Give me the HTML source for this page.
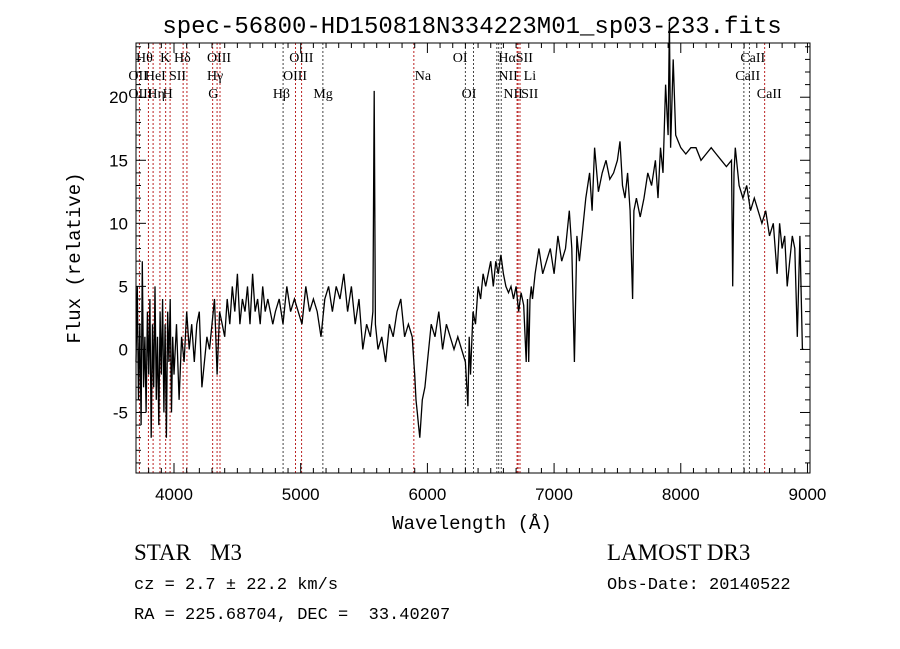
<!DOCTYPE html>
<html><head><meta charset="utf-8"><style>
body{margin:0;background:#fff;}
svg{display:block;font-family:"Liberation Serif",serif;}
</style></head><body>
<svg id="chart" width="900" height="649" viewBox="0 0 900 649" xmlns="http://www.w3.org/2000/svg">
<rect width="900" height="649" fill="#fff"/>
<text x="472" y="33" text-anchor="middle" font-size="24" font-family="Liberation Mono, monospace" fill="#000">spec-56800-HD150818N334223M01_sp03-233.fits</text>
<g id="lines"></g><g id="ticks"></g><g id="labels"></g>
<path id="spec" fill="none" stroke="#000" stroke-width="1.3"/>
<rect x="136" y="43" width="674" height="430" fill="none" stroke="#000" stroke-width="1"/>
<text x="472" y="529" text-anchor="middle" font-size="19" font-family="Liberation Mono, monospace">Wavelength (Å)</text>
<text transform="translate(80,258) rotate(-90)" text-anchor="middle" font-size="19" font-family="Liberation Mono, monospace">Flux (relative)</text>
<text x="134" y="560" font-size="23">STAR</text>
<text x="210" y="560" font-size="23">M3</text>
<text x="607" y="560" font-size="23">LAMOST DR3</text>
<text x="134" y="589" font-size="17" font-family="Liberation Mono, monospace">cz = 2.7 ± 22.2 km/s</text>
<text x="607" y="589" font-size="17" font-family="Liberation Mono, monospace">Obs-Date: 20140522</text>
<text x="134" y="619" font-size="17" font-family="Liberation Mono, monospace" xml:space="preserve" style="white-space:pre">RA = 225.68704, DEC =  33.40207</text>
</svg>
<script>
const xTicks=[4000,5000,6000,7000,8000,9000];
const yTicks=[-5,0,5,10,15,20];
const lineWaves=[3727,3798,3835,3889,3934,3969,4072,4102,4305,4340,4363,4861,4959,5007,5175,5893,6300,6364,6548,6563,6583,6708,6716,6731,8498,8542,8662];
const lineColors=["#b22","#b22","#b22","#b22","#b22","#b22","#b22","#b22","#b22","#b22","#b22","#444","#b22","#b22","#444","#b22","#444","#444","#444","#444","#444","#b22","#b22","#b22","#444","#444","#b22"];
const labelText=["Hθ","K","Hδ","OIII","OIII","OI","HαSII","CaII","OII","HeI","SII","Hγ","OIII","Na","NII","Li","CaII","OIII","Hη","H","G","Hβ","Mg","OI","NII","SII","CaII"];
const labelWave=[3700,3890,4000,4260,4910,6200,6560,8470,3640,3770,3960,4260,4860,5900,6560,6760,8430,3640,3790,3910,4270,4780,5100,6270,6600,6740,8600];
const labelRow=[0,0,0,0,0,0,0,0,1,1,1,1,1,1,1,1,1,2,2,2,2,2,2,2,2,2,2];
const waves=[3700,3710,3720,3730,3740,3750,3760,3770,3780,3790,3800,3810,3820,3830,3840,3850,3860,3870,3880,3890,3900,3910,3920,3930,3940,3950,3960,3970,3980,3990,4000,4020,4040,4060,4080,4100,4120,4140,4160,4180,4200,4220,4240,4260,4280,4300,4320,4340,4360,4380,4400,4420,4440,4460,4480,4500,4520,4540,4560,4580,4600,4620,4640,4660,4680,4700,4720,4740,4760,4780,4800,4830,4860,4890,4920,4950,4980,5010,5040,5070,5100,5130,5160,5190,5220,5250,5280,5310,5340,5370,5400,5430,5460,5490,5520,5550,5570,5580,5590,5610,5640,5670,5700,5730,5760,5790,5820,5850,5880,5900,5910,5920,5930,5940,5960,5980,6000,6030,6060,6090,6120,6150,6180,6210,6240,6270,6300,6320,6330,6340,6360,6380,6400,6420,6440,6460,6480,6500,6520,6540,6560,6580,6600,6620,6640,6660,6680,6700,6720,6740,6760,6780,6790,6800,6810,6820,6830,6850,6880,6910,6940,6970,7000,7030,7060,7090,7120,7140,7160,7180,7200,7220,7250,7280,7300,7320,7350,7380,7410,7440,7470,7500,7520,7540,7560,7580,7600,7620,7630,7650,7680,7710,7740,7770,7800,7820,7840,7860,7880,7900,7910,7920,7940,7960,7980,8000,8040,8080,8120,8160,8200,8240,8280,8320,8360,8400,8410,8420,8430,8460,8490,8520,8550,8580,8610,8640,8670,8700,8730,8760,8780,8800,8820,8840,8860,8880,8900,8920,8940,8960,8970,8980,9000];
const flux=[-1,5,-4,2,-6,7,-3,1,-5,3,-2,4,-7,2,-3,5,-4,1,-6,3,-2,4,-5,2,-7,3,-1,4,-5,1,-2,2,-4,1,-1,3,0,2,-1,2,3,-3,-1,1,0,2,4,-2,3,2,1,4,2,5,3,6,2,4,3,5,2,6,3,4,2,5,3,4,3,2,3,4,2,5,3,4,3,2,5,3,4,3,1,4,5,3,5,4,6,3,5,2,4,0,2,1,3,20.5,2,0,1,-1,2,1,3,4,1,2,1,-2,-4,-5,-6,-7,-4,-3,-1,2,1,3,0,2,1,0,1,0,-1,-4.5,1,-2,3,2,5,4,6,5,6,7,5,7,6,7.5,6,5,4.5,5,4,5,3,4.5,3.5,-1,4,-1,4,5,4,6,8,6,7,8,6,9,7,8,11,8,-1,9,7,9,12,14,11,16,12.5,14,15,13.5,14,15,16.5,13,12,14,11,4,11,12,10.5,12,14,13,15,12,16,14,21,17,26,16,23,17,16.5,16,15.5,16,16,15,15.5,16,15.5,15,14.5,15,5,14,16,13,12,13,11,12,11,10,11,9,10,6,10,8,9,5,7,9,8,1,9,0,0];
const L=136,R=810,T=43,B=473,W0=3700,W1=9020,F0=-9.8,F1=24.3;
const xs=w=>L+(w-W0)/(W1-W0)*(R-L);
const ys=f=>B-(f-F0)/(F1-F0)*(B-T);
const NS="http://www.w3.org/2000/svg";
function mk(tag,attrs,parent){const e=document.createElementNS(NS,tag);for(const k in attrs)e.setAttribute(k,attrs[k]);document.getElementById(parent).appendChild(e);return e;}
lineWaves.forEach((w,i)=>{
 const e=mk('line',{x1:xs(w),x2:xs(w),y1:T,y2:B,stroke:lineColors[i],'stroke-width':1,'stroke-dasharray':'2,2'},'lines');
 
 
});
labelText.forEach((t,i)=>{
 const e=mk('text',{x:xs(labelWave[i]),y:62+labelRow[i]*18,'font-size':14},'labels');
 e.textContent=t;
 
 
});
for(let w=3800;w<=9000;w+=100){const big=w%1000===0,l=big?10:5;
 mk('line',{x1:xs(w),x2:xs(w),y1:B,y2:B-l,stroke:'#000'},'ticks');
 mk('line',{x1:xs(w),x2:xs(w),y1:T,y2:T+l,stroke:'#000'},'ticks');}
for(let f=-9;f<=24;f++){const big=f%5===0,l=big?10:5;
 mk('line',{x1:L,x2:L+l,y1:ys(f),y2:ys(f),stroke:'#000'},'ticks');
 mk('line',{x1:R,x2:R-l,y1:ys(f),y2:ys(f),stroke:'#000'},'ticks');}
xTicks.forEach(w=>{const e=mk('text',{x:xs(w),y:500,'text-anchor':'middle','font-size':17,'font-family':'Liberation Sans, sans-serif'},'ticks');e.textContent=w;
 
 });
yTicks.forEach(f=>{const e=mk('text',{x:128,y:ys(f)+6,'text-anchor':'end','font-size':17,'font-family':'Liberation Sans, sans-serif'},'ticks');e.textContent=f;
 
 });
let d='';waves.forEach((w,i)=>{d+=(i?'L':'M')+xs(w).toFixed(1)+','+ys(flux[i]).toFixed(1);});
document.getElementById('spec').setAttribute('d',d);
</script>
</body></html>
